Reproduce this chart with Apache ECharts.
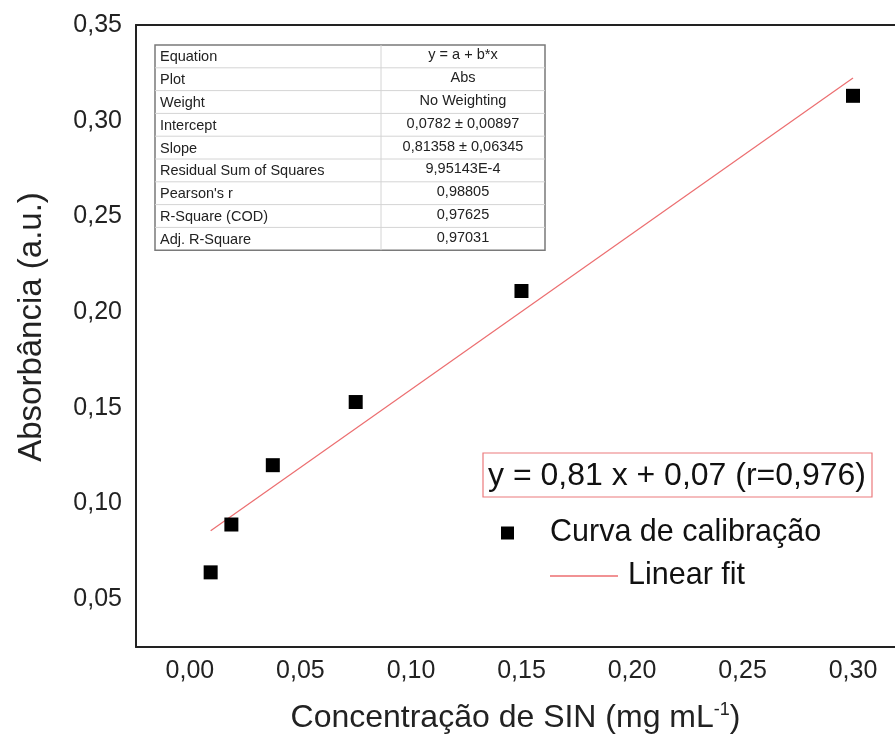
<!DOCTYPE html>
<html>
<head>
<meta charset="utf-8">
<script src="https://cdn.jsdelivr.net/npm/echarts@6/dist/echarts.min.js"></script>
<style>
  html, body { margin: 0; padding: 0; background: #fff; }
  #chart { width: 895px; height: 740px; }
</style>
</head>
<body>
<div id="chart"></div>
<script>
// Calibration points: concentration (mg/mL) vs absorbance
const concentration = [0.009375, 0.01875, 0.0375, 0.075, 0.15, 0.30];
const absorbance = [0.064, 0.089, 0.120, 0.153, 0.211, 0.313];

// Fitted line end points (y = a + b*x)
const fitX = [0.009375, 0.30];
const fitY = [0.0858, 0.3223];

// Tick values
const xTicks = [0.00, 0.05, 0.10, 0.15, 0.20, 0.25, 0.30];
const yTicks = [0.05, 0.10, 0.15, 0.20, 0.25, 0.30, 0.35];

// Fit report table
const reportLabels = ['Equation', 'Plot', 'Weight', 'Intercept', 'Slope',
  'Residual Sum of Squares', "Pearson's r", 'R-Square (COD)', 'Adj. R-Square'];
const reportValues = ['y = a + b*x', 'Abs', 'No Weighting', '0,0782 \u00b1 0,00897',
  '0,81358 \u00b1 0,06345', '9,95143E-4', '0,98805', '0,97625', '0,97031'];

const equationText = 'y = 0,81 x + 0,07 (r=0,976)';

const FONT = '"Liberation Sans", Arial, sans-serif';
const comma = v => v.toFixed(2).replace('.', ',');

const chart = echarts.init(document.getElementById('chart'));

// Fit report table drawn as a graphic group
const tLeft = 155, tTop = 45, tMid = 381, tRight = 545, rowH = 22.8;
const tableChildren = [];
tableChildren.push({
  type: 'rect',
  shape: { x: tLeft, y: tTop, width: tRight - tLeft, height: rowH * reportLabels.length },
  style: { fill: '#fff', stroke: '#7a7a7a', lineWidth: 1.5 }
});
for (let i = 1; i < reportLabels.length; i++) {
  tableChildren.push({
    type: 'line',
    shape: { x1: tLeft, y1: tTop + i * rowH, x2: tRight, y2: tTop + i * rowH },
    style: { stroke: '#d4d4d4', lineWidth: 1 }
  });
}
tableChildren.push({
  type: 'line',
  shape: { x1: tMid, y1: tTop, x2: tMid, y2: tTop + rowH * reportLabels.length },
  style: { stroke: '#d4d4d4', lineWidth: 1 }
});
reportLabels.forEach((lab, i) => {
  tableChildren.push({
    type: 'text',
    style: { text: lab, x: tLeft + 5, y: tTop + (i + 0.5) * rowH + 1, fill: '#222',
      font: '14.5px ' + FONT, textAlign: 'left', textVerticalAlign: 'middle' }
  });
  tableChildren.push({
    type: 'text',
    style: { text: reportValues[i], x: (tMid + tRight) / 2, y: tTop + (i + 0.5) * rowH - 1, fill: '#222',
      font: '14.5px ' + FONT, textAlign: 'center', textVerticalAlign: 'middle' }
  });
});

chart.setOption({
  animation: false,
  backgroundColor: '#fff',
  grid: { left: 136, right: 0, top: 25, bottom: 93 },
  xAxis: [{
    type: 'value',
    min: -0.0244,
    max: 0.319,
    position: 'bottom',
    name: 'Concentração de SIN (mg mL{sup|-1})',
    nameLocation: 'middle',
    nameGap: 54,
    nameTextStyle: {
      fontFamily: FONT, fontSize: 32, color: '#222',
      rich: { sup: { fontFamily: FONT, fontSize: 18, color: '#222', verticalAlign: 'top', padding: [0, 0, 16, 0] } }
    },
    axisLine: { show: true, onZero: false, lineStyle: { color: '#222', width: 2 } },
    axisTick: { show: false },
    splitLine: { show: false },
    axisLabel: {
      customValues: xTicks,
      formatter: comma,
      fontFamily: FONT, fontSize: 25, color: '#222', margin: 12
    }
  }, {
    type: 'value',
    min: -0.0244,
    max: 0.319,
    position: 'top',
    axisLine: { show: true, onZero: false, lineStyle: { color: '#222', width: 2 } },
    axisTick: { show: false },
    axisLabel: { show: false },
    splitLine: { show: false }
  }],
  yAxis: {
    type: 'value',
    min: 0.025,
    max: 0.35,
    name: 'Absorbância (a.u.)',
    nameLocation: 'middle',
    nameGap: 88,
    nameTextStyle: { fontFamily: FONT, fontSize: 33, color: '#222', padding: [0, 0, 0, 18] },
    axisLine: { show: true, onZero: false, lineStyle: { color: '#222', width: 2 } },
    axisTick: { show: false },
    splitLine: { show: false },
    axisLabel: {
      customValues: yTicks,
      formatter: comma,
      fontFamily: FONT, fontSize: 25, color: '#222', margin: 14
    }
  },
  legend: [{
    data: ['Curva de calibração'],
    left: 501, top: 515, padding: 0,
    itemWidth: 13, itemHeight: 13,
    itemStyle: { opacity: 1 },
    textStyle: { fontFamily: FONT, fontSize: 30.5, color: '#111', lineHeight: 36, padding: [0, 0, 0, 31] }
  }, {
    data: [{ name: 'Linear fit', icon: 'rect' }],
    left: 550, top: 558, padding: 0,
    itemWidth: 68, itemHeight: 1.3,
    textStyle: { fontFamily: FONT, fontSize: 30.5, color: '#111', lineHeight: 36, padding: [0, 0, 0, 5] }
  }],
  graphic: [
    { type: 'group', children: tableChildren },
    {
      type: 'rect',
      shape: { x: 483, y: 453, width: 389, height: 44 },
      style: { fill: '#fff', stroke: '#ec7a7c', lineWidth: 1.2 }
    },
    {
      type: 'text',
      style: { text: equationText, x: 677, y: 476, fill: '#111',
        font: '32px ' + FONT, textAlign: 'center', textVerticalAlign: 'middle' }
    }
  ],
  series: [{
    name: 'Linear fit',
    type: 'line',
    data: fitX.map((x, i) => [x, fitY[i]]),
    showSymbol: false,
    symbol: 'none',
    lineStyle: { color: '#ec6e70', width: 1.2 },
    itemStyle: { color: '#ec6e70' },
    z: 2
  }, {
    name: 'Curva de calibração',
    type: 'scatter',
    data: concentration.map((x, i) => [x, absorbance[i]]),
    symbol: 'rect',
    symbolSize: 14,
    itemStyle: { color: '#000', opacity: 1 },
    z: 3
  }]
});
</script>
</body>
</html>
